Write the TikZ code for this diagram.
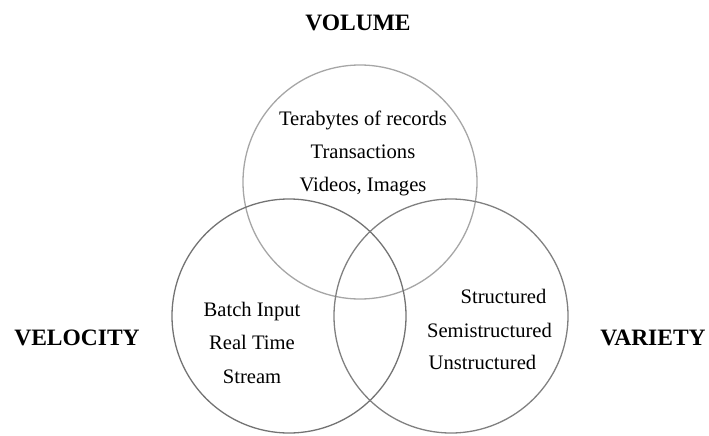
\documentclass[tikz,border=0pt]{standalone}
\usepackage{fontspec}
\setmainfont{Liberation Serif}
\begin{document}
\begin{tikzpicture}[x=1pt,y=-1pt,
  setcircle/.style={circle,draw=#1,line width=1.3pt,minimum size=234pt,inner sep=0pt},
  item/.style={anchor=base,inner sep=0pt,font=\fontsize{20.6}{24}\selectfont},
  title/.style={anchor=base,inner sep=0pt,font=\fontsize{23.5}{28}\selectfont\bfseries}]
\useasboundingbox (0,0) rectangle (709,436);
% the three sets
\node[setcircle=black!35] (volume) at (360,182) {};
\node[setcircle=black!55] (velocity) at (289,316) {};
\node[setcircle=black!50] (variety) at (451,316) {};
% headings
\node[title] (tvol) at (358,31) {VOLUME};
\node[title] (tvel) at (77,345) {VELOCITY};
\node[title] (tvar) at (653,345) {VARIETY};
% contents of each set
\node[item] (v1) at (363,125) {Terabytes of records};
\node[item] (v2) at (363,158) {Transactions};
\node[item] (v3) at (363,191) {Videos, Images};
\node[item] (s1) at (252,316) {Batch Input};
\node[item] (s2) at (252,349) {Real Time};
\node[item] (s3) at (252,383) {Stream};
\node[item] (r1) at (503.5,303) {Structured};
\node[item] (r2) at (489.5,337) {Semistructured};
\node[item] (r3) at (482.5,369) {Unstructured};
\end{tikzpicture}
\end{document}
